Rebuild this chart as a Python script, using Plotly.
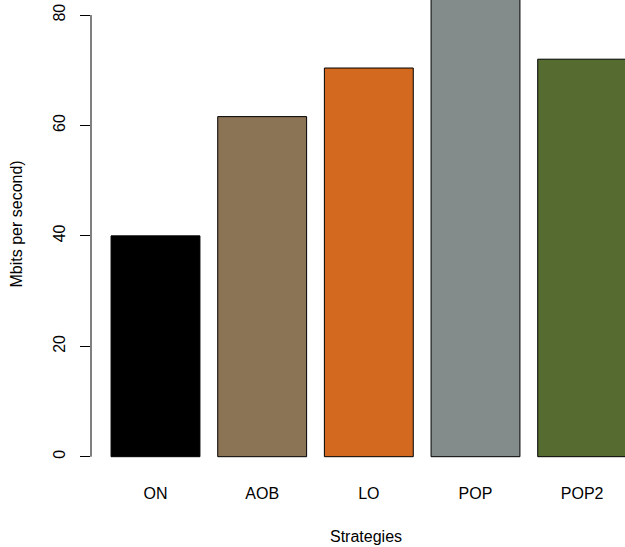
import plotly.graph_objects as go

categories = ["ON", "AOB", "LO", "POP", "POP2"]
values = [40.0, 61.6, 70.4, 84.0, 72.0]
colors = ["#000000", "#8B7355", "#D2691E", "#838B8B", "#556B2F"]
y_ticks = [0, 20, 40, 60, 80]

W, H = 625, 547
ML, MR, MT, MB = 91, 0, 0, 77
plot_h = H - MT - MB
FONT = "Liberation Sans, Arial, sans-serif"

fig = go.Figure()
fig.add_trace(go.Bar(
    x=categories, y=values,
    marker=dict(color=colors, line=dict(color="black", width=1)),
    showlegend=False, hoverinfo="skip",
))

# y-axis line from first to last tick (R-style)
fig.add_shape(type="line", xref="paper", yref="y", x0=0, x1=0,
              y0=y_ticks[0], y1=y_ticks[-1], line=dict(color="black", width=1))

def py(px):
    return (H - MB - px) / plot_h

fig.add_annotation(text="Mbits per second)", xref="paper", yref="paper",
                   x=(16 - ML) / (W - ML - MR), y=py(224.5), showarrow=False,
                   textangle=-90, font=dict(family=FONT, size=16, color="black"),
                   xanchor="center", yanchor="middle")
fig.add_annotation(text="Strategies", xref="paper", yref="paper",
                   x=(366.2 - ML) / (W - ML - MR), y=py(536.5), showarrow=False,
                   font=dict(family=FONT, size=16, color="black"),
                   xanchor="center", yanchor="middle")

fig.update_layout(
    width=W, height=H,
    margin=dict(l=ML, r=MR, t=MT, b=MB, pad=0),
    paper_bgcolor="white", plot_bgcolor="white",
    bargap=1 - 1 / 1.2,
    font=dict(family=FONT, size=16, color="black"),
    xaxis=dict(type="category", range=[-0.6047, 4.4015], showline=False,
               showgrid=False, zeroline=False, ticks="", ticklabelstandoff=12,
               tickfont=dict(size=16)),
    yaxis=dict(range=[-(470 - 456.7) / 5.521, 456.7 / 5.521], tickvals=y_ticks,
               ticks="outside", ticklen=10, tickcolor="black", tickwidth=1,
               showline=False, showgrid=False, zeroline=False, tickangle=-90,
               ticklabelstandoff=9, tickfont=dict(size=16)),
)

fig.write_html("out.html", config={"displayModeBar": False},
               post_script="document.body.style.margin='0';")
